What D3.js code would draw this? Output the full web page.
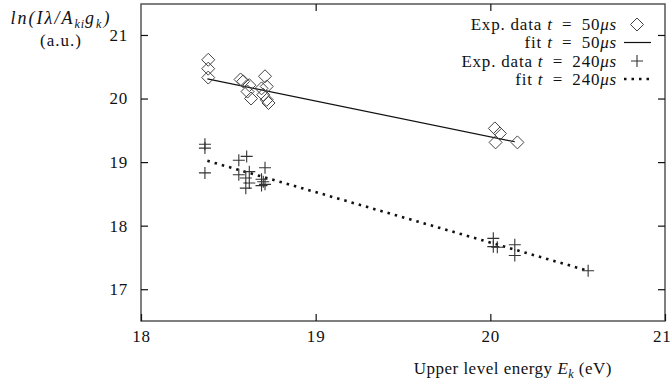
<!DOCTYPE html>
<html>
<head>
<meta charset="utf-8">
<script src="https://cdn.jsdelivr.net/npm/d3@7"></script>
<style>
  body { margin: 0; background: #fff; }
  svg { display: block; }
  text { font-family: "Liberation Serif", "DejaVu Serif", serif; fill: #111; }
</style>
</head>
<body>
<svg id="chart" width="672" height="387"></svg>
<script>
// data
const energy50 = [18.385, 18.385, 18.385, 18.57, 18.585, 18.62, 18.61, 18.63, 18.70, 18.71, 18.72, 18.69, 18.72, 18.73, 20.026, 20.055, 20.03, 20.155];
const lnI50 = [20.61, 20.47, 20.33, 20.30, 20.27, 20.21, 20.11, 20.00, 20.06, 20.35, 20.19, 20.16, 19.98, 19.93, 19.53, 19.45, 19.31, 19.31];
const energy240 = [18.366, 18.366, 18.366, 18.56, 18.605, 18.56, 18.62, 18.60, 18.62, 18.60, 18.71, 18.69, 18.70, 18.71, 18.69, 20.017, 20.017, 20.04, 20.14, 20.14, 20.56];
const lnI240 = [19.28, 19.22, 18.83, 19.03, 19.09, 18.80, 18.85, 18.75, 18.67, 18.59, 18.91, 18.73, 18.69, 18.65, 18.63, 17.80, 17.67, 17.66, 17.70, 17.53, 17.29];
const fit50X = [18.38, 20.14];
const fit50Y = [20.31, 19.32];
const fit240X = [18.38, 20.56];
const fit240Y = [19.02, 17.29];
const xTicks = [18, 19, 20, 21];
const yTicks = [17, 18, 19, 20, 21];

const plot = { left: 141, right: 665, top: 4, bottom: 321 };
const svg = d3.select("#chart");

const x = d3.scaleLinear().domain([18, 21]).range([plot.left, plot.right]);
const y = d3.scaleLinear().domain([16.5, 21.5]).range([plot.bottom, plot.top - 0.8]);

// frame
svg.append("rect")
    .attr("x", plot.left).attr("y", plot.top)
    .attr("width", plot.right - plot.left).attr("height", plot.bottom - plot.top)
    .attr("fill", "none").attr("stroke", "#555").attr("stroke-width", 1.5);

// axes, ticks pointing inward on all four sides
const tickLen = 7;
const gx = svg.append("g").attr("transform", `translate(0,${plot.bottom})`)
    .call(d3.axisBottom(x).tickValues(xTicks).tickSize(-tickLen).tickPadding(8).tickFormat(d3.format("d")));
const gxTop = svg.append("g").attr("transform", `translate(0,${plot.top})`)
    .call(d3.axisTop(x).tickValues(xTicks.slice(1, -1)).tickSize(-tickLen).tickFormat(""));
const gy = svg.append("g").attr("transform", `translate(${plot.left},0)`)
    .call(d3.axisLeft(y).tickValues(yTicks).tickSize(-tickLen).tickPadding(13).tickFormat(d3.format("d")));
const gyRight = svg.append("g").attr("transform", `translate(${plot.right},0)`)
    .call(d3.axisRight(y).tickValues(yTicks).tickSize(-tickLen).tickFormat(""));

[gx, gxTop, gy, gyRight].forEach(g => {
    g.select(".domain").remove();
    g.selectAll(".tick line").attr("stroke", "#111").attr("stroke-width", 1.2);
    g.selectAll("text").attr("font-family", "Liberation Serif, serif").attr("font-size", 17)
        .attr("letter-spacing", 0.8).attr("fill", "#111");
});
gx.selectAll(".tick text").attr("dy", "0.75em");
// the last label sits on the page edge, keep it inside
gx.selectAll(".tick text").filter(d => d === 21).attr("text-anchor", "end").attr("x", 671 - plot.right);

// fit lines
const line = d3.line().x(d => x(d[0])).y(d => y(d[1]));
svg.append("path")
    .datum(d3.zip(fit50X, fit50Y))
    .attr("d", line).attr("fill", "none").attr("stroke", "#111").attr("stroke-width", 1.2);
svg.append("path")
    .datum(d3.zip(fit240X, fit240Y))
    .attr("d", line).attr("fill", "none").attr("stroke", "#111")
    .attr("stroke-width", 2.6).attr("stroke-dasharray", "2.5,5");

// markers
const diamond = (cx, cy, r) => `M${cx},${cy - r}L${cx + r},${cy}L${cx},${cy + r}L${cx - r},${cy}Z`;
const plus = (cx, cy, r) => `M${cx - r},${cy}H${cx + r}M${cx},${cy - r}V${cy + r}`;

svg.append("g").selectAll("path")
    .data(d3.zip(energy50, lnI50))
    .join("path")
    .attr("d", d => diamond(x(d[0]), y(d[1]), 6.5))
    .attr("fill", "none").attr("stroke", "#444").attr("stroke-width", 1);

svg.append("g").selectAll("path")
    .data(d3.zip(energy240, lnI240))
    .join("path")
    .attr("d", d => plus(x(d[0]), y(d[1]), 6))
    .attr("fill", "none").attr("stroke", "#333").attr("stroke-width", 1.1);

// legend
const legendX = 617, symX = 637;
const legendRows = [
    { pre: "Exp. data ", t: "50", kind: "diamond" },
    { pre: "fit ", t: "50", kind: "line" },
    { pre: "Exp. data ", t: "240", kind: "plus" },
    { pre: "fit ", t: "240", kind: "dots" }
];
const legendY = [24.5, 42.5, 61, 79];
legendRows.forEach((r, i) => {
    const cy = legendY[i];
    const t = svg.append("text").attr("x", legendX).attr("y", cy + 5.5)
        .attr("text-anchor", "end").attr("font-size", 17).attr("letter-spacing", 0.8);
    t.append("tspan").text(r.pre);
    t.append("tspan").attr("font-style", "italic").text("t");
    t.append("tspan").text("\u2002=\u2002" + r.t);
    t.append("tspan").attr("font-style", "italic").text("μs");
    if (r.kind === "diamond") {
        svg.append("path").attr("d", diamond(symX, cy, 6.5)).attr("fill", "none").attr("stroke", "#444");
    } else if (r.kind === "plus") {
        svg.append("path").attr("d", plus(symX, cy, 6)).attr("fill", "none").attr("stroke", "#333").attr("stroke-width", 1.1);
    } else {
        const seg = svg.append("line").attr("x1", 624).attr("x2", 651).attr("y1", cy).attr("y2", cy)
            .attr("stroke", "#111");
        if (r.kind === "dots") seg.attr("stroke-width", 2.6).attr("stroke-dasharray", "2.5,5");
        else seg.attr("stroke-width", 1.2);
    }
});

// y label
const yl = svg.append("text").attr("x", 61).attr("y", 24).attr("text-anchor", "middle")
    .attr("font-size", 18).attr("font-style", "italic").attr("letter-spacing", 2);
yl.append("tspan").text("ln(Iλ/A");
yl.append("tspan").attr("font-size", 12).attr("letter-spacing", 1).attr("dy", 4).text("ki");
yl.append("tspan").attr("dy", -4).text("g");
yl.append("tspan").attr("font-size", 12).attr("dy", 4).text("k");
yl.append("tspan").attr("dy", -4).text(")");
svg.append("text").attr("x", 61).attr("y", 46).attr("text-anchor", "middle")
    .attr("font-size", 17).attr("letter-spacing", 1).text("(a.u.)");

// x label
const xl = svg.append("text").attr("x", 612).attr("y", 374).attr("text-anchor", "end")
    .attr("font-size", 17).attr("letter-spacing", 0.5);
xl.append("tspan").text("Upper level energy ");
xl.append("tspan").attr("font-style", "italic").text("E");
xl.append("tspan").attr("font-style", "italic").attr("font-size", 12).attr("dy", 4).text("k");
xl.append("tspan").attr("dy", -4).text(" (eV)");
</script>
</body>
</html>
